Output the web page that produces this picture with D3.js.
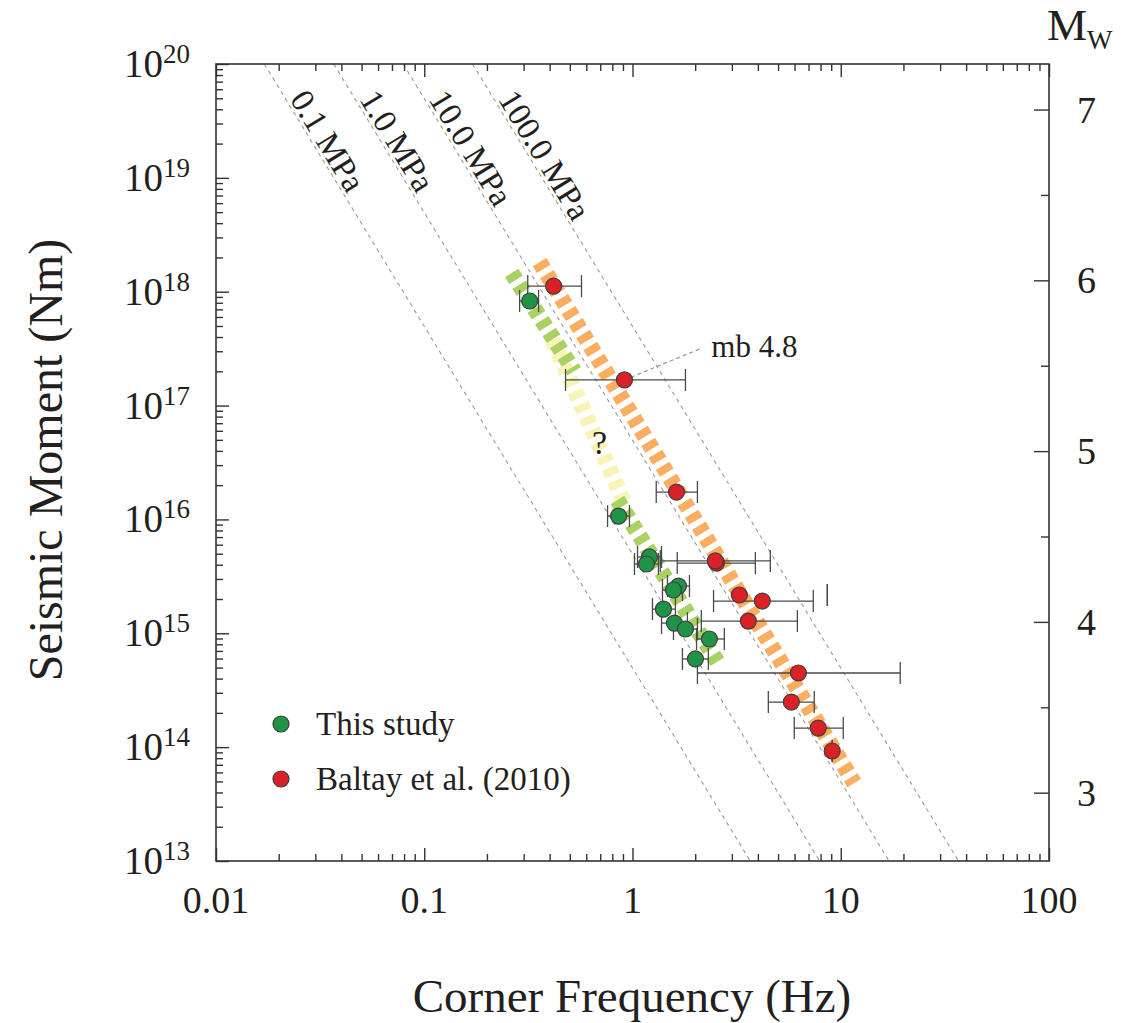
<!DOCTYPE html>
<html><head><meta charset="utf-8">
<script src="https://cdn.jsdelivr.net/npm/d3@7"></script>
<style>body{margin:0;background:#fff}svg{display:block}text{font-family:"Liberation Serif","Times New Roman",serif;fill:#231f20}</style>
</head><body>
<svg id="chart" width="1124" height="1023"></svg>
<script>
// ---------- data ----------
const xTickLabels = ["0.01","0.1","1","10","100"];
const xMajorTicks = [0.01,0.1,1,10,100];
const yMajorExp = [13,14,15,16,17,18,19,20];
const mwTicks = [3,4,5,6,7];
const mwMinorTicks = [3.5,4.5,5.5,6.5];
const stressDrops = [0.1,1,10,100];           // MPa
const stressLabels = ["0.1 MPa","1.0 MPa","10.0 MPa","100.0 MPa"];
const shearVelocity = 3500;                     // m/s (Brune model)

const greenFc   = [0.321,0.857,1.206,1.167,1.662,1.573,1.408,1.590,1.796,2.34,2.005];
const greenM0   = [8.29e17,1.07e16,4.68e15,4.06e15,2.60e15,2.40e15,1.63e15,1.23e15,1.09e15,8.91e14,5.95e14];
const greenFcLo = [0.287,0.759,1.057,1.022,1.472,1.393,1.247,1.378,1.573,2.03,1.737];
const greenFcHi = [0.354,0.967,1.378,1.332,1.877,1.737,1.608,1.835,2.05,2.76,2.314];

const redFc   = [0.418,0.915,1.626,2.53,2.50,3.26,4.20,3.60,6.26,5.79,7.80,9.10];
const redM0   = [1.12e18,1.68e17,1.74e16,4.14e15,4.32e15,2.17e15,1.92e15,1.28e15,4.48e14,2.49e14,1.47e14,9.25e13];
const redFcLo = [0.314,0.477,1.30,1.64,1.36,8.62,2.45,2.14,2.05,4.49,5.98,9.10];
const redFcHi = [0.569,1.796,2.05,3.89,4.59,8.62,7.38,6.19,19.3,7.46,10.28,9.10];

const orangeBandFc = [0.358,11.6],  orangeBandM0 = [1.82e18,4.84e13];
const greenTopFc   = [0.263,0.525], greenTopM0   = [1.46e18,2.0e17];
const yellowFc     = [0.413,0.915], yellowM0     = [3.77e17,1.39e16];
const greenBotFc   = [0.847,2.61],  greenBotM0   = [1.48e16,5.27e14];

const legendLabels = ["This study","Baltay et al. (2010)"];
const annotFc = 2.39, annotM0 = 2.67e17, annotLineEndFc = 2.10, annotLineEndM0 = 3.14e17;
const qFc = 0.695, qM0 = 4.07e16;

// ---------- layout ----------
const L=216,R=1049,T=64,B=861;
const svg=d3.select("#chart");
const x=d3.scaleLog().domain([0.01,100]).range([L,R]);
const y=d3.scaleLog().domain([1e13,1e20]).range([B,T]);
const mw=m=>(2/3)*(Math.log10(m)-9.1);
const yMw=d3.scaleLinear().domain([mw(1e13),mw(1e20)]).range([B,T]);

const COL={green:"#1f9447",red:"#db2128",orange:"#fbad62",band:"#a9d164",yellow:"#f8f3b6",axis:"#333"};

svg.append("clipPath").attr("id","clip").append("rect").attr("x",L).attr("y",T).attr("width",R-L).attr("height",B-T);
const plot=svg.append("g").attr("clip-path","url(#clip)");

// stress drop lines (Brune): M0 = 16/7 * dsig * (0.37*beta/fc)^3
const fcFor=(m0,ds)=>0.37*shearVelocity*Math.cbrt(16*ds*1e6/(7*m0));
stressDrops.forEach(ds=>{
  plot.append("line")
    .attr("x1",x(fcFor(1e20,ds))).attr("y1",y(1e20))
    .attr("x2",x(fcFor(1e13,ds))).attr("y2",y(1e13))
    .attr("stroke","#9a9a9a").attr("stroke-width",1.1).attr("stroke-dasharray","4,4");
});

// bands
function band(fc,m0,color){
  plot.append("line").attr("x1",x(fc[0])).attr("y1",y(m0[0])).attr("x2",x(fc[1])).attr("y2",y(m0[1]))
    .attr("stroke",color).attr("stroke-width",16).attr("stroke-dasharray","8,6");
}
band(yellowFc,yellowM0,COL.yellow);
band(greenTopFc,greenTopM0,COL.band);
band(greenBotFc,greenBotM0,COL.band);
band(orangeBandFc,orangeBandM0,COL.orange);

// stress labels
const angle=Math.atan2(y(1e13)-y(1e20), x(fcFor(1e13,1))-x(fcFor(1e20,1)))*180/Math.PI;
const labM0=Math.pow(10,19.684);
stressDrops.forEach((ds,i)=>{
  const px=x(fcFor(labM0,ds))+3, py=y(labM0)-1;
  svg.append("text").attr("transform",`translate(${px},${py}) rotate(${angle})`)
    .attr("font-size",33).text(stressLabels[i]);
});

// error bars
const greenPts=greenFc.map((f,i)=>({fc:f,m0:greenM0[i],lo:greenFcLo[i],hi:greenFcHi[i]}));
const redPts=redFc.map((f,i)=>({fc:f,m0:redM0[i],lo:redFcLo[i],hi:redFcHi[i]}));
const eb=svg.append("g").attr("stroke","#4a4a4a").attr("stroke-width",1.3);
[...greenPts,...redPts].forEach(d=>{
  const yy=y(d.m0);
  eb.append("line").attr("x1",x(d.lo)).attr("x2",x(d.hi)).attr("y1",yy).attr("y2",yy);
  [d.lo,d.hi].forEach(v=>eb.append("line").attr("x1",x(v)).attr("x2",x(v)).attr("y1",yy-11).attr("y2",yy+11));
});

// mb annotation connector
svg.append("line").attr("x1",x(redFc[1])).attr("y1",y(redM0[1])).attr("x2",x(annotLineEndFc)).attr("y2",y(annotLineEndM0))
  .attr("stroke","#9a9a9a").attr("stroke-width",1.3).attr("stroke-dasharray","4,3");

// points
svg.append("g").selectAll("circle").data(greenPts).join("circle")
  .attr("cx",d=>x(d.fc)).attr("cy",d=>y(d.m0)).attr("r",8).attr("fill",COL.green).attr("stroke","#3d3d3d").attr("stroke-width",1.2);
svg.append("g").selectAll("circle").data(redPts).join("circle")
  .attr("cx",d=>x(d.fc)).attr("cy",d=>y(d.m0)).attr("r",8).attr("fill",COL.red).attr("stroke","#3d3d3d").attr("stroke-width",1.2);

svg.append("text").attr("x",x(annotFc)).attr("y",y(annotM0)).attr("font-size",31).text("mb 4.8");
svg.append("text").attr("x",x(qFc)).attr("y",y(qM0)+4).attr("font-size",34).attr("text-anchor","middle").text("?");

// ---------- axes ----------
const minorX=[];xMajorTicks.slice(0,-1).forEach(v=>{for(let k=2;k<=9;k++)minorX.push(v*k);});
const minorY=[];yMajorExp.slice(0,-1).forEach(e=>{for(let k=2;k<=9;k++)minorY.push(k*Math.pow(10,e));});
const majY=yMajorExp.map(e=>Math.pow(10,e));

function styleAxis(g){g.select(".domain").remove();g.selectAll(".tick line").attr("stroke",COL.axis).attr("stroke-width",1.4);g.selectAll(".tick text").remove();}
svg.append("g").attr("transform",`translate(0,${B})`).call(d3.axisBottom(x).tickValues(minorX).tickSize(-7)).call(styleAxis);
svg.append("g").attr("transform",`translate(0,${B})`).call(d3.axisBottom(x).tickValues(xMajorTicks).tickSize(-13)).call(styleAxis);
svg.append("g").attr("transform",`translate(0,${T})`).call(d3.axisTop(x).tickValues(minorX).tickSize(-7)).call(styleAxis);
svg.append("g").attr("transform",`translate(0,${T})`).call(d3.axisTop(x).tickValues(xMajorTicks).tickSize(-13)).call(styleAxis);
svg.append("g").attr("transform",`translate(${L},0)`).call(d3.axisLeft(y).tickValues(minorY).tickSize(-7)).call(styleAxis);
svg.append("g").attr("transform",`translate(${L},0)`).call(d3.axisLeft(y).tickValues(majY).tickSize(-13)).call(styleAxis);
svg.append("g").attr("transform",`translate(${R},0)`).call(d3.axisRight(yMw).tickValues(mwTicks).tickSize(-15)).call(styleAxis);
svg.append("g").attr("transform",`translate(${R},0)`).call(d3.axisRight(yMw).tickValues(mwMinorTicks).tickSize(-8)).call(styleAxis);

svg.append("rect").attr("x",L).attr("y",T).attr("width",R-L).attr("height",B-T).attr("fill","none").attr("stroke",COL.axis).attr("stroke-width",1.6);

// tick labels
xMajorTicks.forEach((v,i)=>svg.append("text").attr("x",x(v)).attr("y",913).attr("text-anchor","middle").attr("font-size",38).text(xTickLabels[i]));
yMajorExp.forEach(e=>{
  const t=svg.append("text").attr("x",190).attr("y",y(Math.pow(10,e))+13).attr("text-anchor","end").attr("font-size",39);
  t.append("tspan").text("10");
  t.append("tspan").attr("dy",-14).attr("font-size",27).text(String(e));
});
mwTicks.forEach(v=>svg.append("text").attr("x",1077).attr("y",yMw(v)+13).attr("font-size",38).text(v));
const mwT=svg.append("text").attr("x",1047).attr("y",40).attr("font-size",45);
mwT.append("tspan").text("M");mwT.append("tspan").attr("dy",9).attr("font-size",27).text("W");

// axis titles
svg.append("text").attr("x",632).attr("y",1012).attr("text-anchor","middle").attr("font-size",47).text("Corner Frequency (Hz)");
svg.append("text").attr("transform","translate(62,460) rotate(-90)").attr("text-anchor","middle").attr("font-size",48).text("Seismic Moment (Nm)");

// legend
const lg=svg.append("g");
[COL.green,COL.red].forEach((c,i)=>{
  const yy=724+i*55;
  lg.append("circle").attr("cx",281).attr("cy",yy).attr("r",8).attr("fill",c).attr("stroke","#3d3d3d").attr("stroke-width",1.2);
  lg.append("text").attr("x",316).attr("y",yy+11).attr("font-size",33).text(legendLabels[i]);
});
</script>
</body></html>
